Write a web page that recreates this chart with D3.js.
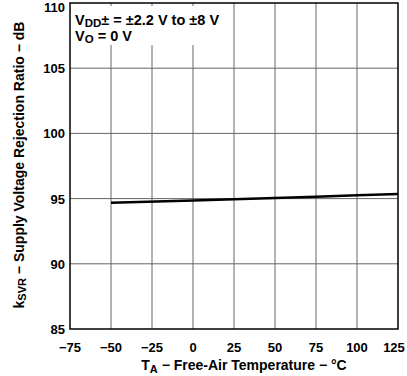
<!DOCTYPE html>
<html>
<head>
<meta charset="utf-8">
<script src="https://cdn.jsdelivr.net/npm/d3@7"></script>
<style>
  body { margin: 0; background: #fff; }
  text { font-family: "Liberation Sans", Arial, sans-serif; font-weight: bold; fill: #000; }
</style>
</head>
<body>
<svg id="chart" width="407" height="376"></svg>
<script>
// data
let temps = [-50, 0, 25, 50, 75, 100, 125];
let ksvr = [94.68, 94.85, 94.95, 95.05, 95.15, 95.25, 95.35];
let xTicks = [-75, -50, -25, 0, 25, 50, 75, 100, 125];
let yTicks = [85, 90, 95, 100, 105, 110];

let svg = d3.select("#chart");
let pLeft = 70, pRight = 398, pTop = 3, pBottom = 329;

let x = d3.scaleLinear().domain([-75, 125]).range([pLeft, pRight]);
let y = d3.scaleLinear().domain([85, 110]).range([pBottom, pTop]);

// grid
svg.append("g").selectAll("line")
  .data(xTicks.slice(1, -1))
  .enter().append("line")
  .attr("x1", d => x(d)).attr("x2", d => x(d))
  .attr("y1", pTop).attr("y2", pBottom)
  .attr("stroke", "#666").attr("stroke-width", 1);
svg.append("g").selectAll("line")
  .data(yTicks.slice(1, -1))
  .enter().append("line")
  .attr("x1", pLeft).attr("x2", pRight)
  .attr("y1", d => y(d)).attr("y2", d => y(d))
  .attr("stroke", "#666").attr("stroke-width", 1);

// white box behind the annotation
svg.append("rect")
  .attr("x", pLeft + 2).attr("y", pTop + 3)
  .attr("width", 157).attr("height", 39)
  .attr("fill", "#fff");

// frame
svg.append("rect")
  .attr("x", pLeft).attr("y", pTop)
  .attr("width", pRight - pLeft).attr("height", pBottom - pTop)
  .attr("fill", "none").attr("stroke", "#000").attr("stroke-width", 1.5);

// curve
let line = d3.line().x((d, i) => x(temps[i])).y(d => y(d));
svg.append("path")
  .datum(ksvr)
  .attr("d", line)
  .attr("fill", "none").attr("stroke", "#000").attr("stroke-width", 2.5);

// tick labels (end ones pulled in so they stay on the page)
svg.append("g").selectAll("text")
  .data(xTicks)
  .enter().append("text")
  .attr("x", d => Math.min(x(d), 394))
  .attr("y", 352)
  .attr("text-anchor", "middle").attr("font-size", 13)
  .text(d => d < 0 ? "\u2212" + Math.abs(d) : d);
svg.append("g").selectAll("text")
  .data(yTicks)
  .enter().append("text")
  .attr("x", 65).attr("y", d => Math.max(y(d) + 5, 12))
  .attr("text-anchor", "end").attr("font-size", 13)
  .text(d => d);

// axis titles
let xt = svg.append("text")
  .attr("x", 244).attr("y", 370)
  .attr("text-anchor", "middle").attr("font-size", 14);
xt.append("tspan").text("T");
xt.append("tspan").attr("font-size", 11).attr("dy", 3).text("A");
xt.append("tspan").attr("dy", -3).text(" \u2212 Free-Air Temperature \u2212 \u00b0C");

let yt = svg.append("text")
  .attr("transform", "translate(24,165) rotate(-90)")
  .attr("text-anchor", "middle").attr("font-size", 14);
yt.append("tspan").text("k");
yt.append("tspan").attr("font-size", 11).attr("dy", 2).text("SVR");
yt.append("tspan").attr("dy", -2).text(" \u2212 Supply Voltage Rejection Ratio \u2212 dB");

// annotation
let a1 = svg.append("text").attr("x", 75).attr("y", 25).attr("font-size", 14.5);
a1.append("tspan").text("V");
a1.append("tspan").attr("font-size", 11.5).attr("dy", 2).text("DD");
a1.append("tspan").attr("dy", -2).text("\u00b1 = \u00b12.2 V to \u00b18 V");
let a2 = svg.append("text").attr("x", 75).attr("y", 41).attr("font-size", 14.5);
a2.append("tspan").text("V");
a2.append("tspan").attr("font-size", 11.5).attr("dy", 2).text("O");
a2.append("tspan").attr("dy", -2).text(" = 0 V");
</script>
</body>
</html>
